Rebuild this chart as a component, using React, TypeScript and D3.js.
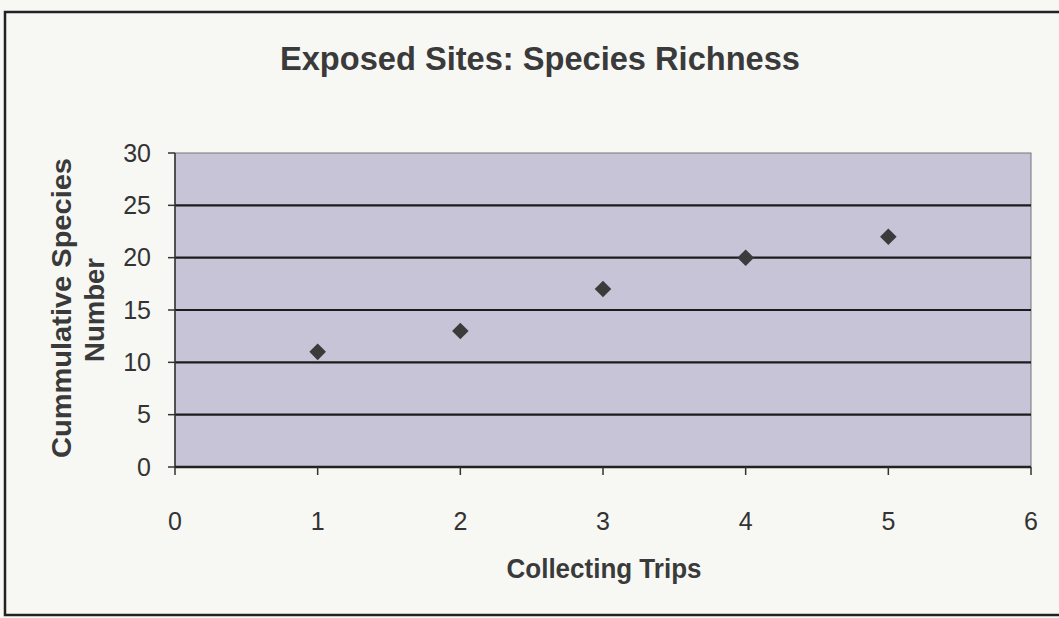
import React from "react";
import * as d3 from "d3";

const trips = [1, 2, 3, 4, 5];
const species = [11, 13, 17, 20, 22];
const xTicks = [0, 1, 2, 3, 4, 5, 6];
const yTicks = [0, 5, 10, 15, 20, 25, 30];
const title = "Exposed Sites: Species Richness";
const xLabel = "Collecting Trips";
const yLabelLines = ["Cummulative Species", "Number"];

const W = 1059;
const H = 618;
const plot = { left: 175, right: 1031, top: 153, bottom: 467 };
const FONT = "'Liberation Sans', Arial, sans-serif";

export default function App() {
  const x = d3.scaleLinear().domain([0, 6]).range([plot.left, plot.right]);
  const y = d3.scaleLinear().domain([0, 30]).range([plot.bottom, plot.top]);
  const diamond = d3.symbol().type(d3.symbolDiamond2).size(175)();
  return (
    <svg
      width={W}
      height={H}
      style={{ position: "absolute", left: 0, top: 0, background: "#f7f8f4" }}
    >
      <rect x={5} y={12} width={W + 10} height={603} fill="#f7f8f4" stroke="#222" strokeWidth={2.5} />
      <text x={540} y={70} textAnchor="middle" fontFamily={FONT} fontWeight="bold" fontSize={34} fill="#3a3a3a" textLength={520} lengthAdjust="spacingAndGlyphs">
        {title}
      </text>
      <rect
        x={plot.left}
        y={plot.top}
        width={plot.right - plot.left}
        height={plot.bottom - plot.top}
        fill="#c6c4d6"
        stroke="#777"
        strokeWidth={1}
      />
      {yTicks.map((t) => (
        <g key={t}>
          {t > 0 && t < 30 && (
            <line x1={plot.left} x2={plot.right} y1={y(t)} y2={y(t)} stroke="#1c1c1c" strokeWidth={2.2} />
          )}
          <line x1={plot.left - 7} x2={plot.left} y1={y(t)} y2={y(t)} stroke="#333" strokeWidth={1.5} />
          <text x={plot.left - 24} y={y(t)} dy="0.35em" textAnchor="end" fontFamily={FONT} fontSize={25} fill="#333">
            {t}
          </text>
        </g>
      ))}
      <line x1={plot.left} x2={plot.left} y1={plot.top} y2={plot.bottom} stroke="#333" strokeWidth={1.5} />
      <line x1={plot.left} x2={plot.right} y1={plot.bottom} y2={plot.bottom} stroke="#222" strokeWidth={2.5} />
      {xTicks.map((t) => (
        <g key={t}>
          <line x1={x(t)} x2={x(t)} y1={plot.bottom} y2={plot.bottom + 8} stroke="#333" strokeWidth={1.5} />
          <text x={x(t)} y={530} textAnchor="middle" fontFamily={FONT} fontSize={25} fill="#333">
            {t}
          </text>
        </g>
      ))}
      <text x={604} y={578} textAnchor="middle" fontFamily={FONT} fontWeight="bold" fontSize={27} fill="#3a3a3a" textLength={195} lengthAdjust="spacingAndGlyphs">
        {xLabel}
      </text>
      <g transform="translate(78,308) rotate(-90)">
        <text x={0} y={-16} dy="0.35em" textAnchor="middle" fontFamily={FONT} fontWeight="bold" fontSize={27} fill="#3a3a3a" textLength={300} lengthAdjust="spacingAndGlyphs">
          {yLabelLines[0]}
        </text>
        <text x={-2} y={17} dy="0.35em" textAnchor="middle" fontFamily={FONT} fontWeight="bold" fontSize={27} fill="#3a3a3a" textLength={104} lengthAdjust="spacingAndGlyphs">
          {yLabelLines[1]}
        </text>
      </g>
      {trips.map((t, i) => (
        <path key={t} d={diamond} transform={`translate(${x(t)},${y(species[i])})`} fill="#3b3b3b" />
      ))}
    </svg>
  );
}
